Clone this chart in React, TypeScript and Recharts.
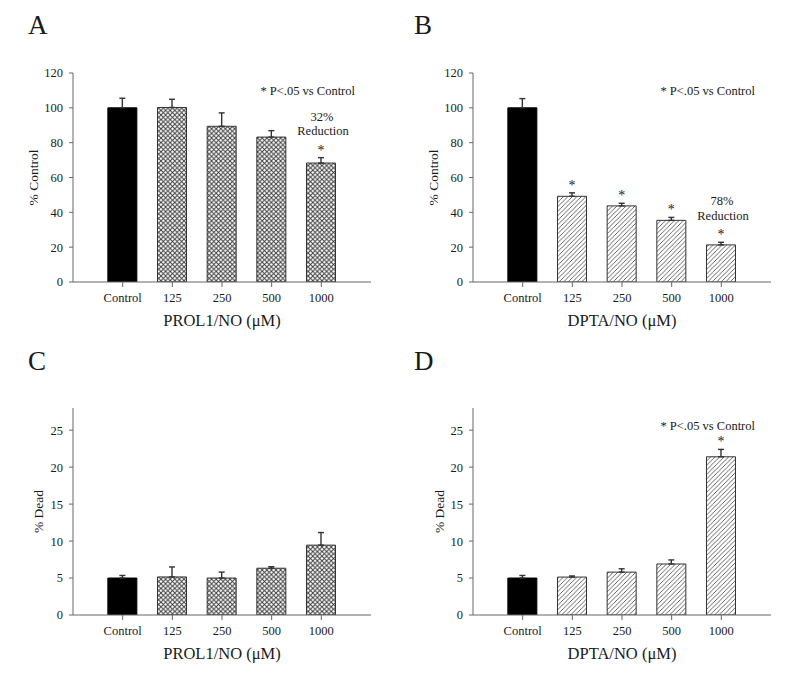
import React from 'react';
import { BarChart, Bar, XAxis, YAxis, ErrorBar, Cell, LabelList } from 'recharts';

const categories = ['Control', '125', '250', '500', '1000'];

const viabilityProli = [100, 100.2, 89.4, 83.2, 68.3];
const viabilityProliErr = [5.5, 4.7, 7.7, 3.7, 3.1];
const viabilityProliSig = [false, false, false, false, true];

const viabilityDpta = [100, 49.2, 43.7, 35.4, 21.3];
const viabilityDptaErr = [5.3, 2.0, 1.5, 1.7, 1.5];
const viabilityDptaSig = [false, true, true, true, true];

const deadProli = [5.0, 5.15, 5.0, 6.33, 9.45];
const deadProliErr = [0.35, 1.35, 0.8, 0.2, 1.7];
const deadProliSig = [false, false, false, false, false];

const deadDpta = [5.0, 5.13, 5.8, 6.9, 21.4];
const deadDptaErr = [0.35, 0.15, 0.45, 0.55, 1.0];
const deadDptaSig = [false, false, false, false, true];

const viabilityTicks = [0, 20, 40, 60, 80, 100, 120];
const deadTicks = [0, 5, 10, 15, 20, 25];

const noteProli = ['32%', 'Reduction'];
const noteDpta = ['78%', 'Reduction'];
const sigText = '* P<.05 vs Control';

const FONT = '"Liberation Serif", "Times New Roman", serif';
const TEXT = '#1a1a1a';

type PanelProps = {
  id: string;
  letter: string;
  xTitle: string;
  yTitle: string;
  values: number[];
  errs: number[];
  sig: boolean[];
  note: string[] | null;
  showSig: boolean;
  pattern: 'cross' | 'diag';
  domain: [number, number];
  ticks: number[];
  height: number;
  marginTop: number;
  marginBottom: number;
  yTitleX: number;
  left: number;
  top: number;
};

const W = 400;
const YAXIS_W = 73;
const MARGIN_R = 29;
const XAXIS_H = 58;

function Panel(p: PanelProps) {
  const data = categories.map((c, i) => ({
    name: c,
    value: p.values[i],
    err: [0, p.errs[i]],
  }));
  const plotTop = p.marginTop;
  const plotBottom = p.height - p.marginBottom - XAXIS_H;
  const plotRight = W - MARGIN_R;
  const patId = `${p.pattern}-${p.id}`;

  const starContent = (props: any) => {
    const vb = props.viewBox || props;
    const x = Number(vb.x);
    const y = Number(vb.y);
    const width = Number(vb.width);
    const height = Number(vb.height);
    const index = props.index;
    const value = p.values[index];
    if (!isFinite(x) || !isFinite(y) || !value) return null;
    const perUnit = height / value;
    const errTop = y - p.errs[index] * perUnit;
    const cx = x + width / 2;
    const out: any[] = [];
    if (p.sig[index]) {
      out.push(
        <text key="s" x={cx} y={errTop - 3} textAnchor="middle" fontSize={14} fill={TEXT} fontFamily={FONT}>
          *
        </text>
      );
    }
    if (p.note && index === categories.length - 1) {
      out.push(
        <text key="n1" x={cx + 1} y={errTop - 37} textAnchor="middle" fontSize={12.5} fill={TEXT} fontFamily={FONT}>
          {p.note[0]}
        </text>
      );
      out.push(
        <text key="n2" x={cx + 2} y={errTop - 22.5} textAnchor="middle" fontSize={12.5} fill={TEXT} fontFamily={FONT}>
          {p.note[1]}
        </text>
      );
    }
    return <g>{out}</g>;
  };

  return (
    <div style={{ position: 'absolute', left: p.left, top: p.top, width: W, height: p.height }}>
      <BarChart
        width={W}
        height={p.height}
        data={data}
        margin={{ top: p.marginTop, right: MARGIN_R, left: 0, bottom: p.marginBottom }}
        style={{ fontFamily: FONT }}
      >
        <defs>
          <pattern id={`cross-${p.id}`} patternUnits="userSpaceOnUse" width="4.6" height="4.6">
            <rect width="4.6" height="4.6" fill="#fff" />
            <path d="M0,0 L4.6,4.6 M4.6,0 L0,4.6" stroke="#3a3a3a" strokeWidth="0.95" />
          </pattern>
          <pattern id={`diag-${p.id}`} patternUnits="userSpaceOnUse" width="4.5" height="4.5">
            <rect width="4.5" height="4.5" fill="#fff" />
            <path d="M-1,1 L1,-1 M0,4.5 L4.5,0 M3.5,5.5 L5.5,3.5" stroke="#555" strokeWidth="0.9" />
          </pattern>
        </defs>
        <XAxis
          dataKey="name"
          type="category"
          height={XAXIS_H}
          padding={{ left: 24.85, right: 24.85 }}
          stroke="#666"
          tickSize={5}
          tickMargin={6}
          tick={{ fill: TEXT, fontSize: 12.5, fontFamily: FONT }}
          interval={0}
          label={{
            value: p.xTitle,
            position: 'insideBottom',
            offset: 14,
            fill: TEXT,
            fontSize: 16.5,
            fontFamily: FONT,
          }}
        />
        <XAxis
          xAxisId="top"
          dataKey="name"
          orientation="top"
          height={0}
          tick={false}
          tickLine={false}
          stroke="#9a9a9a"
          padding={{ left: 24.85, right: 24.85 }}
        />
        <YAxis
          width={YAXIS_W}
          domain={p.domain}
          ticks={p.ticks}
          type="number"
          stroke="#666"
          tickSize={4}
          tickMargin={6}
          interval={0}
          allowDataOverflow
          tick={{ fill: TEXT, fontSize: 12.5, fontFamily: FONT }}
        />
        <YAxis
          yAxisId="r"
          orientation="right"
          width={0}
          domain={p.domain}
          tick={false}
          tickLine={false}
          stroke="#9a9a9a"
          allowDataOverflow
        />
        <Bar dataKey="value" barSize={29} isAnimationActive={false} stroke="#333" strokeWidth={1}>
          {data.map((d, i) => (
            <Cell key={d.name} fill={i === 0 ? '#000' : `url(#${patId})`} stroke={i === 0 ? '#000' : '#333'} />
          ))}
          <ErrorBar dataKey="err" direction="y" width={3} stroke="#333" strokeWidth={1.4} isAnimationActive={false} />
          <LabelList dataKey="value" content={starContent} />
        </Bar>
        <text x={p.yTitleX} y={(plotTop + plotBottom) / 2} transform={`rotate(-90, ${p.yTitleX}, ${(plotTop + plotBottom) / 2})`} textAnchor="middle" dominantBaseline="central" fontSize={13.5} fill={TEXT} fontFamily={FONT}>
          {p.yTitle}
        </text>
        {p.showSig && (
          <text x={plotRight - 16} y={plotTop + 22} textAnchor="end" fontSize={12.5} fill={TEXT} fontFamily={FONT}>
            {sigText}
          </text>
        )}
        <text x={p.id === 'a' || p.id === 'c' ? 28 : 14} y={p.id === 'a' || p.id === 'b' ? 33.5 : 30} fontSize={27} fill={TEXT} fontFamily={FONT}>
          {p.letter}
        </text>
      </BarChart>
    </div>
  );
}

export default function App() {
  return (
    <div style={{ position: 'absolute', left: 0, top: 0, width: 800, height: 687, background: '#fff' }}>
      <Panel
        id="a" letter="A" xTitle="PROL1/NO (μM)" yTitle="% Control"
        values={viabilityProli} errs={viabilityProliErr} sig={viabilityProliSig}
        note={noteProli} showSig pattern="cross" domain={[0, 120]} ticks={viabilityTicks}
        height={340} marginTop={73} marginBottom={0} yTitleX={33} left={0} top={0}
      />
      <Panel
        id="b" letter="B" xTitle="DPTA/NO (μM)" yTitle="% Control"
        values={viabilityDpta} errs={viabilityDptaErr} sig={viabilityDptaSig}
        note={noteDpta} showSig pattern="diag" domain={[0, 120]} ticks={viabilityTicks}
        height={340} marginTop={73} marginBottom={0} yTitleX={33} left={400} top={0}
      />
      <Panel
        id="c" letter="C" xTitle="PROL1/NO (μM)" yTitle="% Dead"
        values={deadProli} errs={deadProliErr} sig={deadProliSig}
        note={null} showSig={false} pattern="cross" domain={[0, 28]} ticks={deadTicks}
        height={347} marginTop={68} marginBottom={14} yTitleX={38} left={0} top={340}
      />
      <Panel
        id="d" letter="D" xTitle="DPTA/NO (μM)" yTitle="% Dead"
        values={deadDpta} errs={deadDptaErr} sig={deadDptaSig}
        note={null} showSig pattern="diag" domain={[0, 28]} ticks={deadTicks}
        height={347} marginTop={68} marginBottom={14} yTitleX={39} left={400} top={340}
      />
    </div>
  );
}
